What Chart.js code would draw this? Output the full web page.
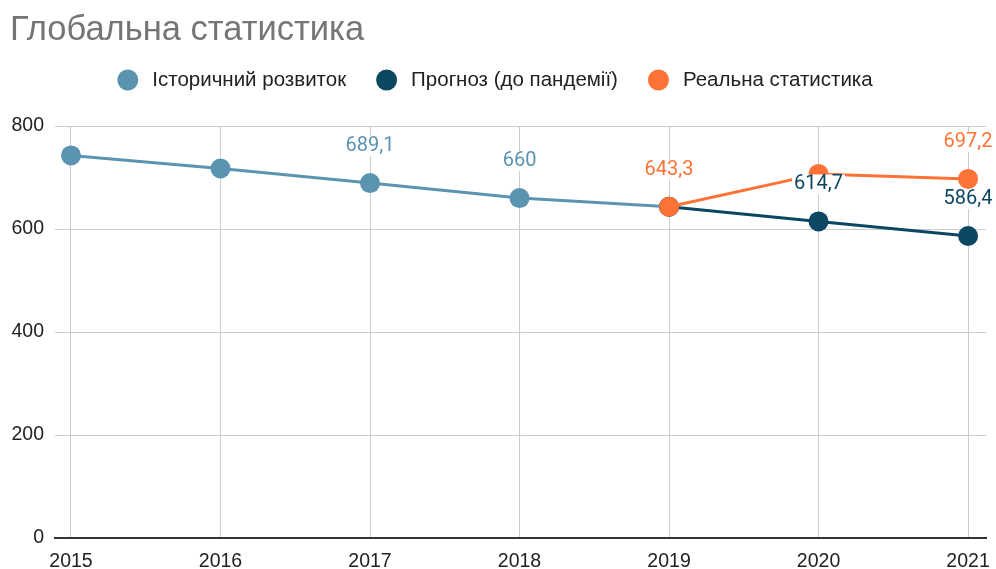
<!DOCTYPE html>
<html>
<head>
<meta charset="utf-8">
<script src="https://cdn.jsdelivr.net/npm/chart.js@4/dist/chart.umd.min.js"></script>
<style>
html,body{margin:0;padding:0;background:#fff;}
#wrap{width:996px;height:569px;position:relative;}
</style>
</head>
<body>
<div id="wrap"><canvas id="c"></canvas></div>
<script>
const years = [2015, 2016, 2017, 2018, 2019, 2020, 2021];
const historyValues = [742.9, 717.5, 689.1, 660, 643.3, null, null];
const forecastValues = [null, null, null, null, 643.3, 614.7, 586.4];
const realValues = [null, null, null, null, 643.3, 707, 697.2];
const historyShowLabel = [0, 0, 1, 1, 0, 0, 0];
const forecastShowLabel = [0, 0, 0, 0, 0, 1, 1];
const realShowLabel = [0, 0, 0, 0, 1, 0, 1];
const yTicks = [0, 200, 400, 600, 800];
const seriesNames = ['Історичний розвиток', 'Прогноз (до пандемії)', 'Реальна статистика'];
const titleText = 'Глобальна статистика';

const cHist = '#5b94b1';
const cFore = '#0b4663';
const cReal = '#ff7235';
const SANS = '"Liberation Sans", Arial, sans-serif';

function pts(vals){ return years.map((y,i)=>({x:y, y:vals[i]})); }

const valueLabels = {
  id:'valueLabels',
  afterDatasetsDraw(chart){
    const ctx = chart.ctx;
    const shows = [historyShowLabel, forecastShowLabel, realShowLabel];
    ctx.save();
    ctx.font = '20px Roboto';
    ctx.textAlign = 'center';
    ctx.textBaseline = 'middle';
    chart.data.datasets.forEach((ds, di)=>{
      const meta = chart.getDatasetMeta(di);
      meta.data.forEach((el, i)=>{
        if (!shows[di][i]) return;
        const v = ds.data[i].y;
        if (v === null) return;
        const txt = String(v).replace('.', ',');
        const x = el.x, y = el.y - 37;
        const w = ctx.measureText(txt).width;
        ctx.fillStyle = '#fff';
        ctx.fillRect(x - w/2 - 2, y - 10, w + 4, 20);
        ctx.fillStyle = ds.borderColor;
        ctx.fillText(txt, x, y);
      });
    });
    ctx.restore();
  }
};

const customLegend = {
  id:'customLegend',
  afterDraw(chart){
    const ctx = chart.ctx;
    ctx.save();
    ctx.font = '20.5px ' + SANS;
    ctx.textBaseline = 'middle';
    const r = 10.5, gapText = 14, gapItem = 30, cy = 80;
    const items = chart.data.datasets.map(ds=>({t:ds.label, c:ds.borderColor, w:ctx.measureText(ds.label).width}));
    let total = 0;
    items.forEach((it,i)=>{ total += 2*r + gapText + it.w + (i<items.length-1?gapItem:0); });
    let x = chart.width/2 - total/2 - 3;
    items.forEach(it=>{
      ctx.fillStyle = it.c;
      ctx.beginPath(); ctx.arc(x + r, cy, r, 0, Math.PI*2); ctx.fill();
      ctx.fillStyle = '#222';
      ctx.fillText(it.t, x + 2*r + gapText, cy);
      x += 2*r + gapText + it.w + gapItem;
    });
    ctx.restore();
  }
};

function ds(label, vals, color, order){
  return {
    label, data: pts(vals), borderColor: color, backgroundColor: color,
    pointBackgroundColor: color, pointBorderColor: color, pointBorderWidth: 0,
    pointRadius: 10, pointHoverRadius: 10, borderWidth: 3, tension: 0,
    spanGaps: false, order
  };
}

new Chart(document.getElementById('c'), {
  type: 'line',
  data: {
    datasets: [
      ds(seriesNames[0], historyValues, cHist, 3),
      ds(seriesNames[1], forecastValues, cFore, 2),
      ds(seriesNames[2], realValues, cReal, 1)
    ]
  },
  options: {
    responsive: true,
    maintainAspectRatio: false,
    animation: false,
    layout: { padding: { left: 10, right: 9, top: 0, bottom: 0 } },
    plugins: {
      legend: { display: false },
      tooltip: { enabled: false },
      title: {
        display: true, text: titleText, align: 'start',
        color: '#757575',
        font: { family: SANS, size: 34.5, weight: 'normal', lineHeight: 1.2 },
        padding: { top: 10, bottom: 74.6 }
      }
    },
    scales: {
      x: {
        type: 'linear',
        min: years[0] - 0.107,
        max: years[years.length-1] + 0.12,
        afterBuildTicks(s){ s.ticks = years.map(v=>({value:v})); },
        afterFit(s){ s.height = 31; s.paddingLeft = 0; s.paddingRight = 0; },
        grid: { color: '#cccccc', lineWidth: 1, drawTicks: false },
        border: { display: true, color: '#333333', width: 2 },
        ticks: {
          color: '#222', padding: 12, maxRotation: 0, autoSkip: false,
          font: { family: SANS, size: 19.5 },
          callback: v => String(v)
        }
      },
      y: {
        min: 0, max: 800,
        afterBuildTicks(s){ s.ticks = yTicks.map(v=>({value:v})); },
        afterFit(s){ s.width = 45; },
        grid: { color: '#cccccc', lineWidth: 1, drawTicks: false },
        border: { display: false },
        ticks: {
          color: '#222', padding: 11,
          font: { family: SANS, size: 19.5 },
          callback: v => String(v)
        }
      }
    }
  },
  plugins: [valueLabels, customLegend]
});
</script>
</body>
</html>
